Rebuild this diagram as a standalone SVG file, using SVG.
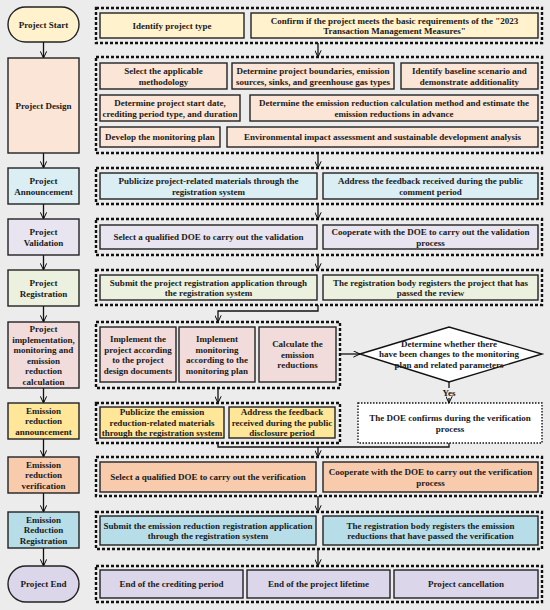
<svg xmlns="http://www.w3.org/2000/svg" width="550" height="610" viewBox="0 0 550 610">
<defs>
<marker id="ah" viewBox="0 0 10 10" refX="9.5" refY="5" markerWidth="7" markerHeight="7" orient="auto" markerUnits="userSpaceOnUse">
<path d="M0,0.5 L9.5,5 L0,9.5" fill="none" stroke="#000" stroke-width="1.4"/>
</marker>
<style>
text{font-family:"Liberation Serif","Times New Roman",serif;font-weight:bold;font-size:9px;fill:#1a1a1a;text-anchor:middle}
.grp{fill:none;stroke:#111;stroke-width:2.4;stroke-dasharray:3 2}
.b{stroke:#222;stroke-width:1.4}
.dot{fill:#fff;stroke:#111;stroke-width:1.4;stroke-dasharray:1.5 1.5}
.c{fill:none;stroke:#111;stroke-width:1.3}
.y{fill:#fff2cc}.d{fill:#fbe5d6}.a{fill:#daeef3}.v{fill:#e8e5f0}.r{fill:#ebf1de}
.i{fill:#f2dcdb}.ea{fill:#ffe699}.ve{fill:#f8cbad}.er{fill:#b7dee8}.e{fill:#dcd6ea}
</style>
</defs>
<rect x="0" y="0" width="550" height="610" fill="#ececec"/>

<g id="connectors">
<path class="c" d="M43.5,42 V58" marker-end="url(#ah)"/>
<path class="c" d="M43.5,153 V168" marker-end="url(#ah)"/>
<path class="c" d="M43.5,204 V219" marker-end="url(#ah)"/>
<path class="c" d="M43.5,255 V270" marker-end="url(#ah)"/>
<path class="c" d="M43.5,306 V322" marker-end="url(#ah)"/>
<path class="c" d="M43.5,388 V403" marker-end="url(#ah)"/>
<path class="c" d="M43.5,439 V457" marker-end="url(#ah)"/>
<path class="c" d="M43.5,493 V512" marker-end="url(#ah)"/>
<path class="c" d="M43.5,548 V566" marker-end="url(#ah)"/>
<path class="c" d="M318,43 V57" marker-end="url(#ah)"/>
<path class="c" d="M318,153 V168" marker-end="url(#ah)"/>
<path class="c" d="M318,204 V219" marker-end="url(#ah)"/>
<path class="c" d="M318,255 V270" marker-end="url(#ah)"/>
<path class="c" d="M318,305 V311 H218 V322" marker-end="url(#ah)"/>
<path class="c" d="M218,388 V403" marker-end="url(#ah)"/>
<path class="c" d="M340,354 H360" marker-end="url(#ah)"/>
<path class="c" d="M449,382 V388"/>
<path class="c" d="M449,398 V403" marker-end="url(#ah)"/>
<path class="c" d="M218,443 V447 H449 V443"/>
<path class="c" d="M318,447 V457" marker-end="url(#ah)"/>
<path class="c" d="M318,496 V512" marker-end="url(#ah)"/>
<path class="c" d="M318,549 V566" marker-end="url(#ah)"/>
<text x="449" y="396">Yes</text>
</g>

<g id="project-start">
<rect class="b y" x="8" y="7" width="71" height="35" rx="17.5"/>
<text x="43.5" y="27.7">Project Start</text>
</g>
<g id="start-tasks">
<rect class="grp" x="96" y="8" width="446" height="35"/>
<rect class="b y" x="100" y="13" width="144" height="25"/>
<text x="172" y="28.7">Identify project type</text>
<rect class="b y" x="251" y="13" width="287" height="25"/>
<text x="394.5" y="23.5">Confirm if the project meets the basic requirements of the "2023</text>
<text x="394.5" y="34">Transaction Management Measures"</text>
</g>

<g id="project-design">
<rect class="b d" x="8" y="58" width="71" height="95"/>
<text x="43.5" y="108.7">Project Design</text>
</g>
<g id="design-tasks">
<rect class="grp" x="96" y="57" width="446" height="96"/>
<rect class="b d" x="100" y="63" width="127" height="26"/>
<text x="163.5" y="74">Select the applicable</text>
<text x="163.5" y="84.5">methodology</text>
<rect class="b d" x="232" y="63" width="162" height="26"/>
<text x="313" y="74">Determine project boundaries, emission</text>
<text x="313" y="84.5">sources, sinks, and greenhouse gas types</text>
<rect class="b d" x="401" y="63" width="137" height="26"/>
<text x="469.5" y="74">Identify baseline scenario and</text>
<text x="469.5" y="84.5">demonstrate additionality</text>
<rect class="b d" x="100" y="95" width="140" height="26"/>
<text x="170" y="106">Determine project start date,</text>
<text x="170" y="116.5">crediting period type, and duration</text>
<rect class="b d" x="250" y="95" width="288" height="26"/>
<text x="394" y="106">Determine the emission reduction calculation method and estimate the</text>
<text x="394" y="116.5">emission reductions in advance</text>
<rect class="b d" x="100" y="127" width="120" height="20"/>
<text x="160" y="140.2">Develop the monitoring plan</text>
<rect class="b d" x="227" y="127" width="311" height="20"/>
<text x="382.5" y="140.2">Environmental impact assessment and sustainable development analysis</text>
</g>

<g id="project-announcement">
<rect class="b a" x="8" y="168" width="71" height="36"/>
<text x="43.5" y="184">Project</text>
<text x="43.5" y="194.5">Announcement</text>
</g>
<g id="announcement-tasks">
<rect class="grp" x="96" y="168" width="446" height="36"/>
<rect class="b a" x="100" y="173" width="217" height="26"/>
<text x="208.5" y="184">Publicize project-related materials through the</text>
<text x="208.5" y="194.5">registration system</text>
<rect class="b a" x="323" y="173" width="215" height="26"/>
<text x="430.5" y="184">Address the feedback received during the public</text>
<text x="430.5" y="194.5">comment period</text>
</g>

<g id="project-validation">
<rect class="b v" x="8" y="219" width="71" height="36"/>
<text x="43.5" y="235">Project</text>
<text x="43.5" y="245.5">Validation</text>
</g>
<g id="validation-tasks">
<rect class="grp" x="96" y="219" width="446" height="36"/>
<rect class="b v" x="100" y="225" width="217" height="24"/>
<text x="208.5" y="240.2">Select a qualified DOE to carry out the validation</text>
<rect class="b v" x="323" y="225" width="215" height="24"/>
<text x="430.5" y="235">Cooperate with the DOE to carry out the validation</text>
<text x="430.5" y="245.5">process</text>
</g>

<g id="project-registration">
<rect class="b r" x="8" y="270" width="71" height="36"/>
<text x="43.5" y="286">Project</text>
<text x="43.5" y="296.5">Registration</text>
</g>
<g id="registration-tasks">
<rect class="grp" x="96" y="270" width="446" height="35"/>
<rect class="b r" x="100" y="275" width="217" height="25"/>
<text x="208.5" y="285.5">Submit the project registration application through</text>
<text x="208.5" y="296">the registration system</text>
<rect class="b r" x="323" y="275" width="215" height="25"/>
<text x="430.5" y="285.5">The registration body registers the project that has</text>
<text x="430.5" y="296">passed the review</text>
</g>

<g id="project-implementation">
<rect class="b i" x="8" y="322" width="71" height="66"/>
<text x="43.5" y="332">Project</text>
<text x="43.5" y="342.5">implementation,</text>
<text x="43.5" y="353">monitoring and</text>
<text x="43.5" y="363.5">emission</text>
<text x="43.5" y="374">reduction</text>
<text x="43.5" y="384.5">calculation</text>
</g>
<g id="implementation-tasks">
<rect class="grp" x="96" y="322" width="244" height="66"/>
<rect class="b i" x="100" y="327" width="76" height="55"/>
<text x="138" y="342">Implement the</text>
<text x="138" y="352.5">project according</text>
<text x="138" y="363">to the project</text>
<text x="138" y="373.5">design documents</text>
<rect class="b i" x="179" y="327" width="76" height="55"/>
<text x="217" y="342">Implement</text>
<text x="217" y="352.5">monitoring</text>
<text x="217" y="363">according to the</text>
<text x="217" y="373.5">monitoring plan</text>
<rect class="b i" x="259" y="327" width="77" height="55"/>
<text x="297.5" y="347.2">Calculate the</text>
<text x="297.5" y="357.7">emission</text>
<text x="297.5" y="368.2">reductions</text>
</g>

<g id="decision">
<polygon points="360,354 449,327 542,354 449,382" fill="#fff" stroke="#111" stroke-width="1.4"/>
<text x="449" y="346.7">Determine whether there</text>
<text x="449" y="357.2">have been changes to the monitoring</text>
<text x="449" y="367.7">plan and related parameters</text>
</g>

<g id="emission-reduction-announcement">
<rect class="b ea" x="8" y="403" width="71" height="36"/>
<text x="43.5" y="413.7">Emission</text>
<text x="43.5" y="424.2">reduction</text>
<text x="43.5" y="434.7">announcement</text>
</g>
<g id="announcement2-tasks">
<rect class="grp" x="96" y="403" width="244" height="40"/>
<rect class="b ea" x="100" y="407" width="124" height="31"/>
<text x="162" y="415.2">Publicize the emission</text>
<text x="162" y="425.7">reduction-related materials</text>
<text x="162" y="436.2">through the registration system</text>
<rect class="b ea" x="229" y="407" width="106" height="31"/>
<text x="282" y="415.2">Address the feedback</text>
<text x="282" y="425.7">received during the public</text>
<text x="282" y="436.2">disclosure period</text>
</g>

<g id="doe-confirms">
<rect class="dot" x="358" y="403" width="184" height="40"/>
<text x="450" y="421">The DOE confirms during the verification</text>
<text x="450" y="431.5">process</text>
</g>

<g id="emission-reduction-verification">
<rect class="b ve" x="8" y="457" width="71" height="36"/>
<text x="43.5" y="467.7">Emission</text>
<text x="43.5" y="478.2">reduction</text>
<text x="43.5" y="488.7">verification</text>
</g>
<g id="verification-tasks">
<rect class="grp" x="96" y="457" width="446" height="39"/>
<rect class="b ve" x="100" y="462" width="216" height="30"/>
<text x="208" y="480.2">Select a qualified DOE to carry out the verification</text>
<rect class="b ve" x="323" y="462" width="215" height="30"/>
<text x="430.5" y="475">Cooperate with the DOE to carry out the verification</text>
<text x="430.5" y="485.5">process</text>
</g>

<g id="emission-reduction-registration">
<rect class="b er" x="8" y="512" width="71" height="36"/>
<text x="43.5" y="522.7">Emission</text>
<text x="43.5" y="533.2">Reduction</text>
<text x="43.5" y="543.7">Registration</text>
</g>
<g id="er-registration-tasks">
<rect class="grp" x="96" y="512" width="446" height="37"/>
<rect class="b er" x="100" y="516" width="216" height="29"/>
<text x="208" y="528.5">Submit the emission reduction registration application</text>
<text x="208" y="539">through the registration system</text>
<rect class="b er" x="323" y="516" width="215" height="29"/>
<text x="430.5" y="528.5">The registration body registers the emission</text>
<text x="430.5" y="539">reductions that have passed the verification</text>
</g>

<g id="project-end">
<rect class="b e" x="8" y="566" width="71" height="36" rx="18"/>
<text x="43.5" y="587.2">Project End</text>
</g>
<g id="end-tasks">
<rect class="grp" x="96" y="566" width="446" height="36"/>
<rect class="b e" x="100" y="570" width="143" height="28"/>
<text x="171.5" y="587.2">End of the crediting period</text>
<rect class="b e" x="247" y="570" width="143" height="28"/>
<text x="318.5" y="587.2">End of the project lifetime</text>
<rect class="b e" x="394" y="570" width="144" height="28"/>
<text x="466" y="587.2">Project cancellation</text>
</g>
</svg>
